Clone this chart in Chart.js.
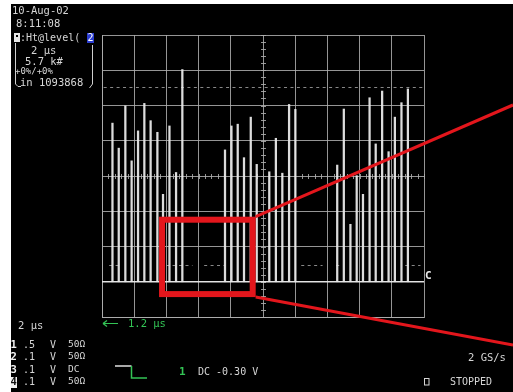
<!DOCTYPE html>
<html>
<head>
<meta charset="utf-8">
<script src="https://cdn.jsdelivr.net/npm/chart.js@4.4.1/dist/chart.umd.min.js"></script>
<style>
  html, body { margin: 0; padding: 0; background: #ffffff; }
  #wrap { position: relative; width: 513px; height: 392px; }
  canvas { display: block; }
</style>
</head>
<body>
<div id="wrap"><canvas id="scope" width="513" height="392"></canvas></div>
<script>
// Pulse train captured on the screen: time of each pulse (µs from trigger)
const pulseTimes = [
  -9.35, -8.96, -8.55, -8.16, -7.76, -7.37, -6.98, -6.56, -6.21, -5.81, -5.40, -5.01,
  -2.36, -1.96, -1.57, -1.18, -0.76, -0.39,
   0.39,  0.80,  1.20,  1.62,  2.01,
   4.61,  5.02,  5.43,  5.82,  6.21,  6.62,  7.00,  7.40,  7.80,  8.19,  8.60,  9.00
];
// Peak level of each pulse (mV)
const pulsePeaks = [
  150,  79, 199,  43, 128, 206, 157, 124, -52, 142,  10, 302,
   74, 142, 147,  52, 167,  33,
   12, 107,   8, 203, 189,
   31, 190, -137,  1, -52, 222,  91, 241,  69, 167, 208, 247
];
// Trace baseline (mV)
const baselineLevel = -300;
// Horizontal level cursors (mV)
const cursorLevels = [252, -252];
// Visible stretches of the lower cursor (µs)
const lowerCursorSpans = [[-9.66, -8.91], [-6.12, -4.38], [-3.76, -2.39], [2.27, 3.70], [4.44, 4.88], [8.73, 9.78]];
// Zoom window drawn over the trace: [start µs, end µs, top mV, bottom mV]
const zoomWindow = [-6.27, -0.64, -124, -335];
// Screen scales: 2 µs/div horizontally, 100 mV/div vertically
const timeRange = [-10, 10];
const levelRange = [-400, 400];

const GRID = 'rgba(175,175,175,0.85)';
const TRACE = 'rgba(232,232,232,0.95)';
const TEXT = '#d6d6d6';
const GREEN = '#33c455';
const RED = '#e3161c';
const MONO = '"DejaVu Sans Mono", "Liberation Mono", monospace';

function txt(ctx, s, x, y, color, size, weight) {
  ctx.font = (weight || 'normal') + ' ' + (size || 10) + 'px ' + MONO;
  ctx.fillStyle = color || TEXT;
  ctx.textBaseline = 'middle';
  ctx.textAlign = 'left';
  ctx.fillText(s, x, y);
}

const screenPlugin = {
  id: 'screen',
  beforeDraw(chart) {
    const ctx = chart.ctx;
    ctx.save();
    ctx.fillStyle = '#ffffff';
    ctx.fillRect(0, 0, chart.width, chart.height);
    ctx.fillStyle = '#000000';
    ctx.fillRect(11, 4, chart.width - 11, chart.height - 4);
    ctx.restore();
  },
  beforeDatasetsDraw(chart) {
    const ctx = chart.ctx;
    const xs = chart.scales.x, ys = chart.scales.y;
    const a = chart.chartArea;
    const cx = Math.round(xs.getPixelForValue(0)) + 0.5;
    const cy = Math.round(ys.getPixelForValue(0)) + 0.5;
    ctx.save();
    ctx.strokeStyle = GRID;
    ctx.lineWidth = 1;
    // minor ticks along the centre axes
    ctx.beginPath();
    for (let v = levelRange[0]; v <= levelRange[1]; v += 20) {
      const y = Math.round(ys.getPixelForValue(v)) + 0.5;
      ctx.moveTo(cx - 2.5, y); ctx.lineTo(cx + 2.5, y);
    }
    for (let t = timeRange[0]; t <= timeRange[1] + 1e-9; t += 0.4) {
      const x = Math.round(xs.getPixelForValue(t)) + 0.5;
      ctx.moveTo(x, cy - 2.5); ctx.lineTo(x, cy + 2.5);
    }
    ctx.stroke();
    // level cursors
    ctx.strokeStyle = 'rgba(160,160,160,0.85)';
    ctx.setLineDash([3, 3.44]);
    ctx.lineDashOffset = -1.7;
    const yU = Math.round(ys.getPixelForValue(cursorLevels[0])) + 0.5;
    ctx.beginPath();
    ctx.moveTo(a.left, yU); ctx.lineTo(a.right, yU);
    ctx.stroke();
    const yL = Math.round(ys.getPixelForValue(cursorLevels[1])) + 0.5;
    ctx.beginPath();
    lowerCursorSpans.forEach(([t0, t1]) => {
      ctx.moveTo(xs.getPixelForValue(t0), yL);
      ctx.lineTo(xs.getPixelForValue(t1), yL);
    });
    ctx.stroke();
    ctx.restore();
  },
  afterDraw(chart) {
    const ctx = chart.ctx;
    const xs = chart.scales.x, ys = chart.scales.y;
    ctx.save();

    // header block
    txt(ctx, '10-Aug-02', 12, 11, TEXT, 10.5);
    txt(ctx, '8:11:08', 16, 24, TEXT, 10.5);
    // trace icon
    ctx.fillStyle = '#e6e6e6';
    ctx.fillRect(14, 33, 6, 9);
    ctx.fillStyle = '#000';
    ctx.fillRect(16, 35, 2, 2);
    txt(ctx, ':Ht@level(', 20, 38, TEXT, 10);
    ctx.fillStyle = '#2b3dd0';
    ctx.fillRect(87, 33, 7, 10);
    txt(ctx, '2', 87.5, 38, '#ffffff', 10);
    txt(ctx, '2 μs', 31, 51, TEXT, 10.5);
    txt(ctx, '5.7 k#', 25, 62, TEXT, 10.5);
    txt(ctx, '+0%/+0%', 15, 72, TEXT, 9);
    txt(ctx, 'in 1093868', 20, 83, TEXT, 10.5);
    ctx.strokeStyle = '#cfcfcf';
    ctx.lineWidth = 1;
    ctx.beginPath();
    ctx.moveTo(15.5, 43); ctx.lineTo(15.5, 84); ctx.lineTo(18, 86.5); ctx.lineTo(21, 86.5);
    ctx.moveTo(92.5, 45); ctx.lineTo(92.5, 84); ctx.lineTo(89.5, 88);
    ctx.stroke();

    // ground marker of the trace
    const yb = ys.getPixelForValue(baselineLevel);
    txt(ctx, 'C', 425, yb - 5.5, '#e8e8e8', 11, 'bold');

    // timebase / channel block
    txt(ctx, '2 μs', 18, 326, TEXT, 10.5);
    const rows = [['1', '.5', 'V', '50Ω'], ['2', '.1', 'V', '50Ω'], ['3', '.1', 'V', 'DC'], ['4', '.1', 'V', '50Ω']];
    const rowY = [345, 357, 370, 382];
    rows.forEach((r, i) => {
      if (i === 3) {
        ctx.fillStyle = '#f2f2f2';
        ctx.fillRect(11, rowY[i] - 5, 6, 11);
        txt(ctx, r[0], 10.5, rowY[i], '#111', 10.5, 'bold');
      } else {
        txt(ctx, r[0], 10.5, rowY[i], '#f4f4f4', 10.5, 'bold');
      }
      txt(ctx, r[1], 23, rowY[i], TEXT, 10);
      txt(ctx, r[2], 50, rowY[i], TEXT, 10);
      txt(ctx, r[3], 68, rowY[i], TEXT, 9.5);
    });

    // trigger delay arrow
    ctx.strokeStyle = GREEN;
    ctx.lineWidth = 1.2;
    ctx.beginPath();
    ctx.moveTo(103, 323.5); ctx.lineTo(118, 323.5);
    ctx.moveTo(103, 323.5); ctx.lineTo(107, 320.5);
    ctx.moveTo(103, 323.5); ctx.lineTo(107, 326.5);
    ctx.stroke();
    txt(ctx, '1.2 μs', 128, 324, GREEN, 10.5);

    // trigger edge symbol
    ctx.lineWidth = 1.5;
    ctx.strokeStyle = '#e0e0e0';
    ctx.beginPath();
    ctx.moveTo(115, 366); ctx.lineTo(131.5, 366);
    ctx.stroke();
    ctx.strokeStyle = GREEN;
    ctx.beginPath();
    ctx.moveTo(131.5, 366); ctx.lineTo(131.5, 378); ctx.lineTo(147, 378);
    ctx.stroke();
    txt(ctx, '1', 179, 372, GREEN, 11, 'bold');
    txt(ctx, 'DC -0.30 V', 198, 372, TEXT, 10);

    // acquisition status
    txt(ctx, '2 GS/s', 468, 358, TEXT, 10.5);
    ctx.strokeStyle = TEXT;
    ctx.lineWidth = 1;
    ctx.strokeRect(424.5, 378.5, 4.5, 6.5);
    txt(ctx, 'STOPPED', 450, 382, TEXT, 10);

    // zoom window and its leader lines
    const x0 = xs.getPixelForValue(zoomWindow[0]);
    const x1 = xs.getPixelForValue(zoomWindow[1]);
    const y0 = ys.getPixelForValue(zoomWindow[2]);
    const y1 = ys.getPixelForValue(zoomWindow[3]);
    ctx.strokeStyle = RED;
    ctx.lineWidth = 6;
    ctx.strokeRect(x0, y0, x1 - x0, y1 - y0);
    ctx.lineWidth = 3;
    ctx.beginPath();
    ctx.moveTo(x1 + 3, y0 - 3); ctx.lineTo(chart.width, 105);
    ctx.moveTo(x1 + 3, y1 + 3); ctx.lineTo(chart.width, 345);
    ctx.stroke();

    ctx.restore();
  }
};

const ctx = document.getElementById('scope').getContext('2d');
new Chart(ctx, {
  type: 'bar',
  data: {
    datasets: [
      {
        type: 'bar',
        label: 'pulses',
        data: pulseTimes.map((t, i) => ({ x: t, y: [baselineLevel, pulsePeaks[i]] })),
        backgroundColor: TRACE,
        borderWidth: 0,
        barThickness: 1.6,
        grouped: false,
        order: 1
      },
      {
        type: 'line',
        label: 'baseline',
        data: [{ x: timeRange[0], y: baselineLevel }, { x: timeRange[1], y: baselineLevel }],
        borderColor: TRACE,
        borderWidth: 1.4,
        pointRadius: 0,
        order: 2
      }
    ]
  },
  options: {
    responsive: false,
    animation: false,
    devicePixelRatio: 1,
    layout: { padding: { left: 102, right: 89, top: 35, bottom: 75 } },
    plugins: { legend: { display: false }, tooltip: { enabled: false } },
    scales: {
      x: {
        type: 'linear',
        offset: false,
        min: timeRange[0], max: timeRange[1],
        ticks: { display: false, stepSize: 2 },
        grid: { color: GRID, lineWidth: 1, drawTicks: false, offset: false },
        border: { color: GRID, width: 1 }
      },
      y: {
        type: 'linear',
        min: levelRange[0], max: levelRange[1],
        ticks: { display: false, stepSize: 100 },
        grid: { color: GRID, lineWidth: 1, drawTicks: false },
        border: { color: GRID, width: 1 }
      }
    }
  },
  plugins: [screenPlugin]
});
</script>
</body>
</html>
